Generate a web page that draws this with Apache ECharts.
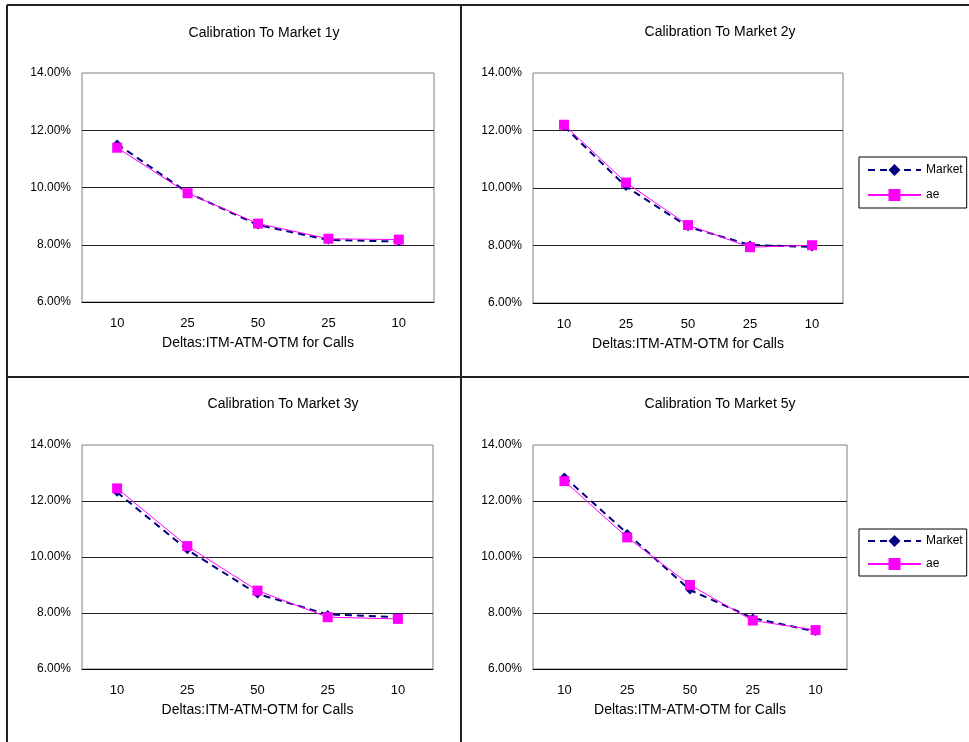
<!DOCTYPE html>
<html>
<head>
<meta charset="utf-8">
<script src="https://cdn.jsdelivr.net/npm/echarts@6/dist/echarts.min.js"></script>
<style>
  html, body { margin: 0; padding: 0; background: #fff; }
  #chart { width: 969px; height: 742px; }
</style>
</head>
<body>
<div id="chart"></div>
<script>
// categories along the x axis (call deltas)
const categories = ["10", "25", "50", "25", "10"];
const yTicks = [6, 8, 10, 12, 14];

// market vs model vols, in percent
const market1y = [11.52, 9.82, 8.69, 8.17, 8.11];
const ae1y = [11.39, 9.80, 8.74, 8.21, 8.18];
const market2y = [12.14, 10.05, 8.65, 8.02, 7.95];
const ae2y = [12.20, 10.19, 8.71, 7.94, 8.01];
const market3y = [12.31, 10.26, 8.68, 7.95, 7.85];
const ae3y = [12.45, 10.39, 8.80, 7.85, 7.79];
const market5y = [12.86, 10.84, 8.82, 7.82, 7.34];
const ae5y = [12.71, 10.70, 9.00, 7.73, 7.39];

const titles = ["Calibration To Market 1y", "Calibration To Market 2y", "Calibration To Market 3y", "Calibration To Market 5y"];
const xName = "Deltas:ITM-ATM-OTM for Calls";

let myChart = echarts.init(document.getElementById("chart"));

const font = "'Liberation Sans', Arial, sans-serif";

// panel layout: plot rectangles + title centres
const panels = [
  { grid: { left: 82, top: 73, width: 352, height: 229 }, title: [264, 26], market: market1y, ae: ae1y },
  { grid: { left: 533, top: 73, width: 310, height: 230 }, title: [720, 25], market: market2y, ae: ae2y },
  { grid: { left: 82, top: 445, width: 351, height: 224 }, title: [283, 397], market: market3y, ae: ae3y },
  { grid: { left: 533, top: 445, width: 314, height: 224 }, title: [720, 397], market: market5y, ae: ae5y },
];

let grids = [], xAxes = [], yAxes = [], series = [], titleOpts = [];

panels.forEach((p, i) => {
  grids.push(Object.assign({ show: true, borderColor: "#808080", borderWidth: 1, backgroundColor: "#fff" }, p.grid));
  titleOpts.push({
    text: titles[i],
    left: p.title[0],
    top: p.title[1],
    padding: 0,
    textAlign: "center",
    textStyle: { fontFamily: font, fontSize: 14, fontWeight: "normal", color: "#000" },
  });
  xAxes.push({
    type: "category",
    gridIndex: i,
    data: categories,
    boundaryGap: true,
    name: xName,
    nameLocation: "middle",
    nameGap: 34,
    nameTextStyle: { fontFamily: font, fontSize: 14, color: "#000" },
    axisLine: { lineStyle: { color: "#000", width: 1 } },
    axisTick: { inside: true, length: 4, lineStyle: { color: "#000" } },
    axisLabel: { fontFamily: font, fontSize: 13, color: "#000", margin: 15 },
    splitLine: { show: false },
  });
  yAxes.push({
    type: "value",
    gridIndex: i,
    min: yTicks[0],
    max: yTicks[yTicks.length - 1],
    interval: 2,
    axisLine: { show: false },
    axisTick: { show: false },
    axisLabel: {
      fontFamily: font,
      fontSize: 12,
      color: "#000",
      margin: 11,
      formatter: (v) => v.toFixed(2) + "%",
    },
    splitLine: { show: true, showMinLine: false, showMaxLine: false, lineStyle: { color: "#222", width: 1 } },
  });
  series.push({
    name: "Market",
    type: "line",
    xAxisIndex: i,
    yAxisIndex: i,
    data: p.market,
    symbol: "diamond",
    symbolSize: 9,
    itemStyle: { color: "#000080" },
    lineStyle: { color: "#000080", width: 2, type: [7, 5] },
    z: 2,
    animation: false,
  });
  series.push({
    name: "ae",
    type: "line",
    xAxisIndex: i,
    yAxisIndex: i,
    data: p.ae,
    symbol: "rect",
    symbolSize: 10,
    itemStyle: { color: "#ff00ff" },
    lineStyle: { color: "#ff00ff", width: 1 },
    z: 3,
    animation: false,
  });
});

const legendBase = {
  data: ["Market", "ae"],
  orient: "vertical",
  left: 859,
  itemWidth: 53,
  itemHeight: 15,
  itemGap: 13,
  padding: [7, 4, 7, 8],
  borderColor: "#000",
  borderWidth: 1,
  backgroundColor: "#fff",
  selectedMode: false,
  textStyle: { fontFamily: font, fontSize: 12, color: "#000" },
};

// frame lines between the four panels
const frameColor = "#222";
const frame = [
  [7, 5, 969, 5],
  [7, 5, 7, 742],
  [461, 5, 461, 742],
  [7, 377, 969, 377],
].map((l) => ({
  type: "line",
  shape: { x1: l[0], y1: l[1], x2: l[2], y2: l[3] },
  style: { stroke: frameColor, lineWidth: 2 },
  z: 10,
}));

myChart.setOption({
  animation: false,
  title: titleOpts,
  legend: [
    Object.assign({}, legendBase, { top: 157 }),
    Object.assign({}, legendBase, { top: 529, itemGap: 11, padding: [6, 4, 6, 8] }),
  ],
  grid: grids,
  xAxis: xAxes,
  yAxis: yAxes,
  series: series,
  graphic: frame,
});
</script>
</body>
</html>
